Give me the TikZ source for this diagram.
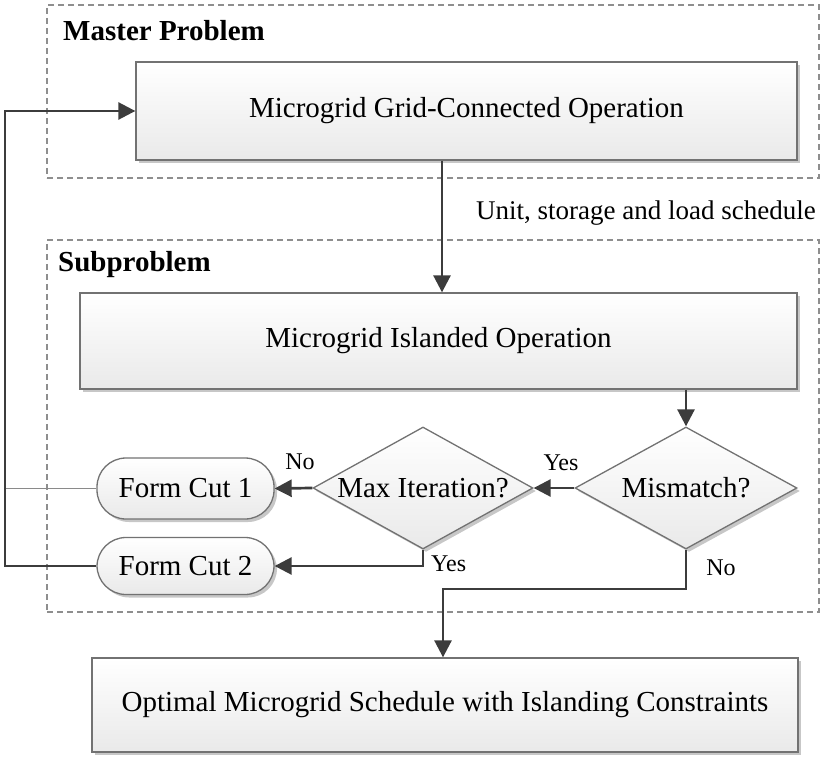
\documentclass[tikz,border=0pt]{standalone}
\usepackage{fontspec}
\setmainfont{Liberation Serif}
\usetikzlibrary{shapes.geometric,arrows.meta,shadows}
\definecolor{linec}{HTML}{3C3C3C}
\definecolor{boxedge}{HTML}{727272}
\definecolor{dashc}{HTML}{8E8E8E}
\definecolor{thinc}{HTML}{8A8A8A}
\tikzset{
  region/.style={draw=dashc, line width=1.1pt, dash pattern=on 6pt off 4pt, minimum width=772pt, inner sep=0pt},
  boxsh/.style={drop shadow={shadow xshift=3pt, shadow yshift=-3pt, opacity=0.22, fill=black}},
  procbox/.style={draw=boxedge, line width=1.3pt, top color=white, bottom color=gray!17, boxsh, inner sep=0pt, font=\fontsize{29}{34}\selectfont},
  cutbox/.style={procbox, rounded corners=29pt, minimum width=177pt},
  decbox/.style={diamond, draw=boxedge, line width=1.3pt, top color=white, bottom color=gray!17, boxsh, inner sep=0pt, aspect=1.82, minimum height=122pt, font=\fontsize{29}{34}\selectfont},
  arr/.style={draw=linec, line width=2.7pt, -{Triangle[length=17pt,width=17pt]}},
  thinline/.style={draw=thinc, line width=1pt},
  lbl/.style={inner sep=0pt, font=\fontsize{24}{28}\selectfont},
  ttl/.style={inner sep=0pt, font=\fontsize{29}{34}\selectfont\bfseries, anchor=base west}
}
\begin{document}
\begin{tikzpicture}[x=1pt,y=-1pt]
\useasboundingbox (0,0) rectangle (827,767);
% regions
\node[region, minimum height=173pt] (masterreg) at (433,91.5) {};
\node[region, minimum height=372pt] (subreg) at (433,426) {};
\node[ttl] (mtitle) at (63,41) {Master Problem};
\node[ttl] (stitle) at (58,272) {Subproblem};
% boxes
\node[procbox, minimum width=661pt, minimum height=98pt] (grid) at (466.5,111) {Microgrid Grid-Connected Operation};
\node[procbox, minimum width=717pt, minimum height=96pt] (isl) at (438.5,341) {Microgrid Islanded Operation};
\node[decbox, minimum width=222pt] (mis) at (686,488) {Mismatch?};
\node[decbox, minimum width=220pt] (maxit) at (423,488) {Max Iteration?};
\node[cutbox, minimum height=61pt] (cut1) at (185.5,488.5) {Form Cut 1};
\node[cutbox, minimum height=57pt] (cut2) at (185.5,566) {Form Cut 2};
\node[procbox, minimum width=706pt, minimum height=94pt] (opt) at (445,705) {Optimal Microgrid Schedule with Islanding Constraints};
% helper coordinates
\coordinate (gx) at (442,0);
\coordinate (lx) at (5,0);
\coordinate (jn) at (443,589);
% connectors
\draw[arr] (grid.south -| gx) -- (isl.north -| gx);
\node[inner sep=0pt, font=\fontsize{27}{32}\selectfont, anchor=east] (sched) at (816,213) {Unit, storage and load schedule};
\draw[arr] (isl.south -| mis.north) -- (mis.north);
\draw[arr] (mis.west) -- (maxit.east);
\node[lbl] (yes1) at (561,463) {Yes};
\draw[arr] (maxit.west) -- (cut1.east);
\node[lbl] (no1) at (300,462) {No};
\draw[arr] (maxit.south) |- (cut2.east);
\node[lbl, anchor=west] (yes2) at (431,564) {Yes};
\draw[thinline] (cut1.west) -- (cut1.west -| lx);
\draw[arr] (cut2.west) -- (cut2.west -| lx) |- (grid.west);
\draw[arr] (mis.south) |- (jn) -- (opt.north -| jn);
\node[lbl] (no2) at (721,568) {No};
\end{tikzpicture}
\end{document}
